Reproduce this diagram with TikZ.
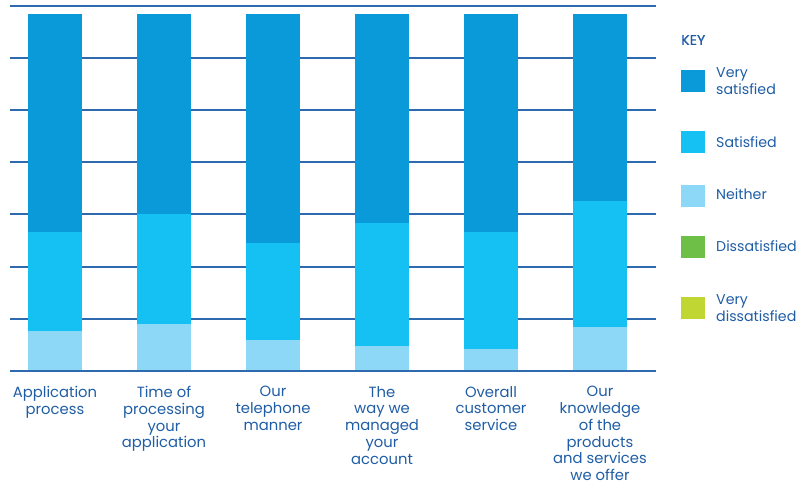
\documentclass[tikz,border=0pt]{standalone}
\usepackage{fontspec}
\setmainfont{Poppins}
\definecolor{verysat}{HTML}{0A9AD9}
\definecolor{sat}{HTML}{15C1F3}
\definecolor{neither}{HTML}{8ED8F7}
\definecolor{dissat}{HTML}{6EBF47}
\definecolor{verydissat}{HTML}{C0D733}
\definecolor{gridblue}{HTML}{2D6AAE}
\definecolor{textblue}{HTML}{1F5DA5}
\tikzset{
    grid line/.style={gridblue, line width=2pt},
    cat label/.style={anchor=north, align=center, text=textblue, inner sep=0pt,
        font=\fontsize{14.8}{16.8}\selectfont},
    key label/.style={anchor=west, align=left, text=textblue, inner sep=0pt,
        font=\fontsize{14.2}{17.5}\selectfont},
}
\begin{document}
\begin{tikzpicture}[x=1pt, y=-1pt]
    \useasboundingbox (0,0) rectangle (797,486);

    % Draw horizontal grid lines
    \foreach \y in {6.5, 58.5, 110.5, 162.5, 214.5, 266.5, 318.5}
        \draw[grid line] (10,\y) -- (656,\y);

    % Draw stacked bars (left edge, end of very satisfied, end of satisfied)
    \foreach \x/\a/\b in {28/232/331, 137/214/324, 246/243/340, 355/223/346, 464/232/349, 573/201/327} {
        \fill[verysat] (\x,14) rectangle (\x+54,\a);
        \fill[sat] (\x,\a) rectangle (\x+54,\b);
        \fill[neither] (\x,\b) rectangle (\x+54,370.5);
    }

    % Draw base line
    \draw[grid line] (10,370.5) -- (656,370.5);

    % Draw category labels
    \node[cat label] (lab1) at (55,386) {Application\\process};
    \node[cat label] (lab2) at (164,386) {Time of\\processing\\your\\application};
    \node[cat label] (lab3) at (273,386) {Our\\telephone\\manner};
    \node[cat label] (lab4) at (382,386) {The\\way we\\managed\\your\\account};
    \node[cat label] (lab5) at (491,386) {Overall\\customer\\service};
    \node[cat label] (lab6) at (600,386) {Our\\knowledge\\of the\\products\\and services\\we offer};

    % Draw key
    \node[key label] (key) at (681,40) {\addfontfeatures{FakeBold=0.6}KEY};
    \fill[verysat] (681,70) rectangle (705,92);
    \node[key label] (k1) at (716,81) {Very\\satisfied};
    \fill[sat] (681,131) rectangle (705,153);
    \node[key label] (k2) at (716,142) {Satisfied};
    \fill[neither] (681,185) rectangle (705,207);
    \node[key label] (k3) at (716,194) {Neither};
    \fill[dissat] (681,236) rectangle (705,258);
    \node[key label] (k4) at (716,246) {Dissatisfied};
    \fill[verydissat] (681,297) rectangle (705,319);
    \node[key label] (k5) at (716,308) {Very\\dissatisfied};
\end{tikzpicture}
\end{document}
